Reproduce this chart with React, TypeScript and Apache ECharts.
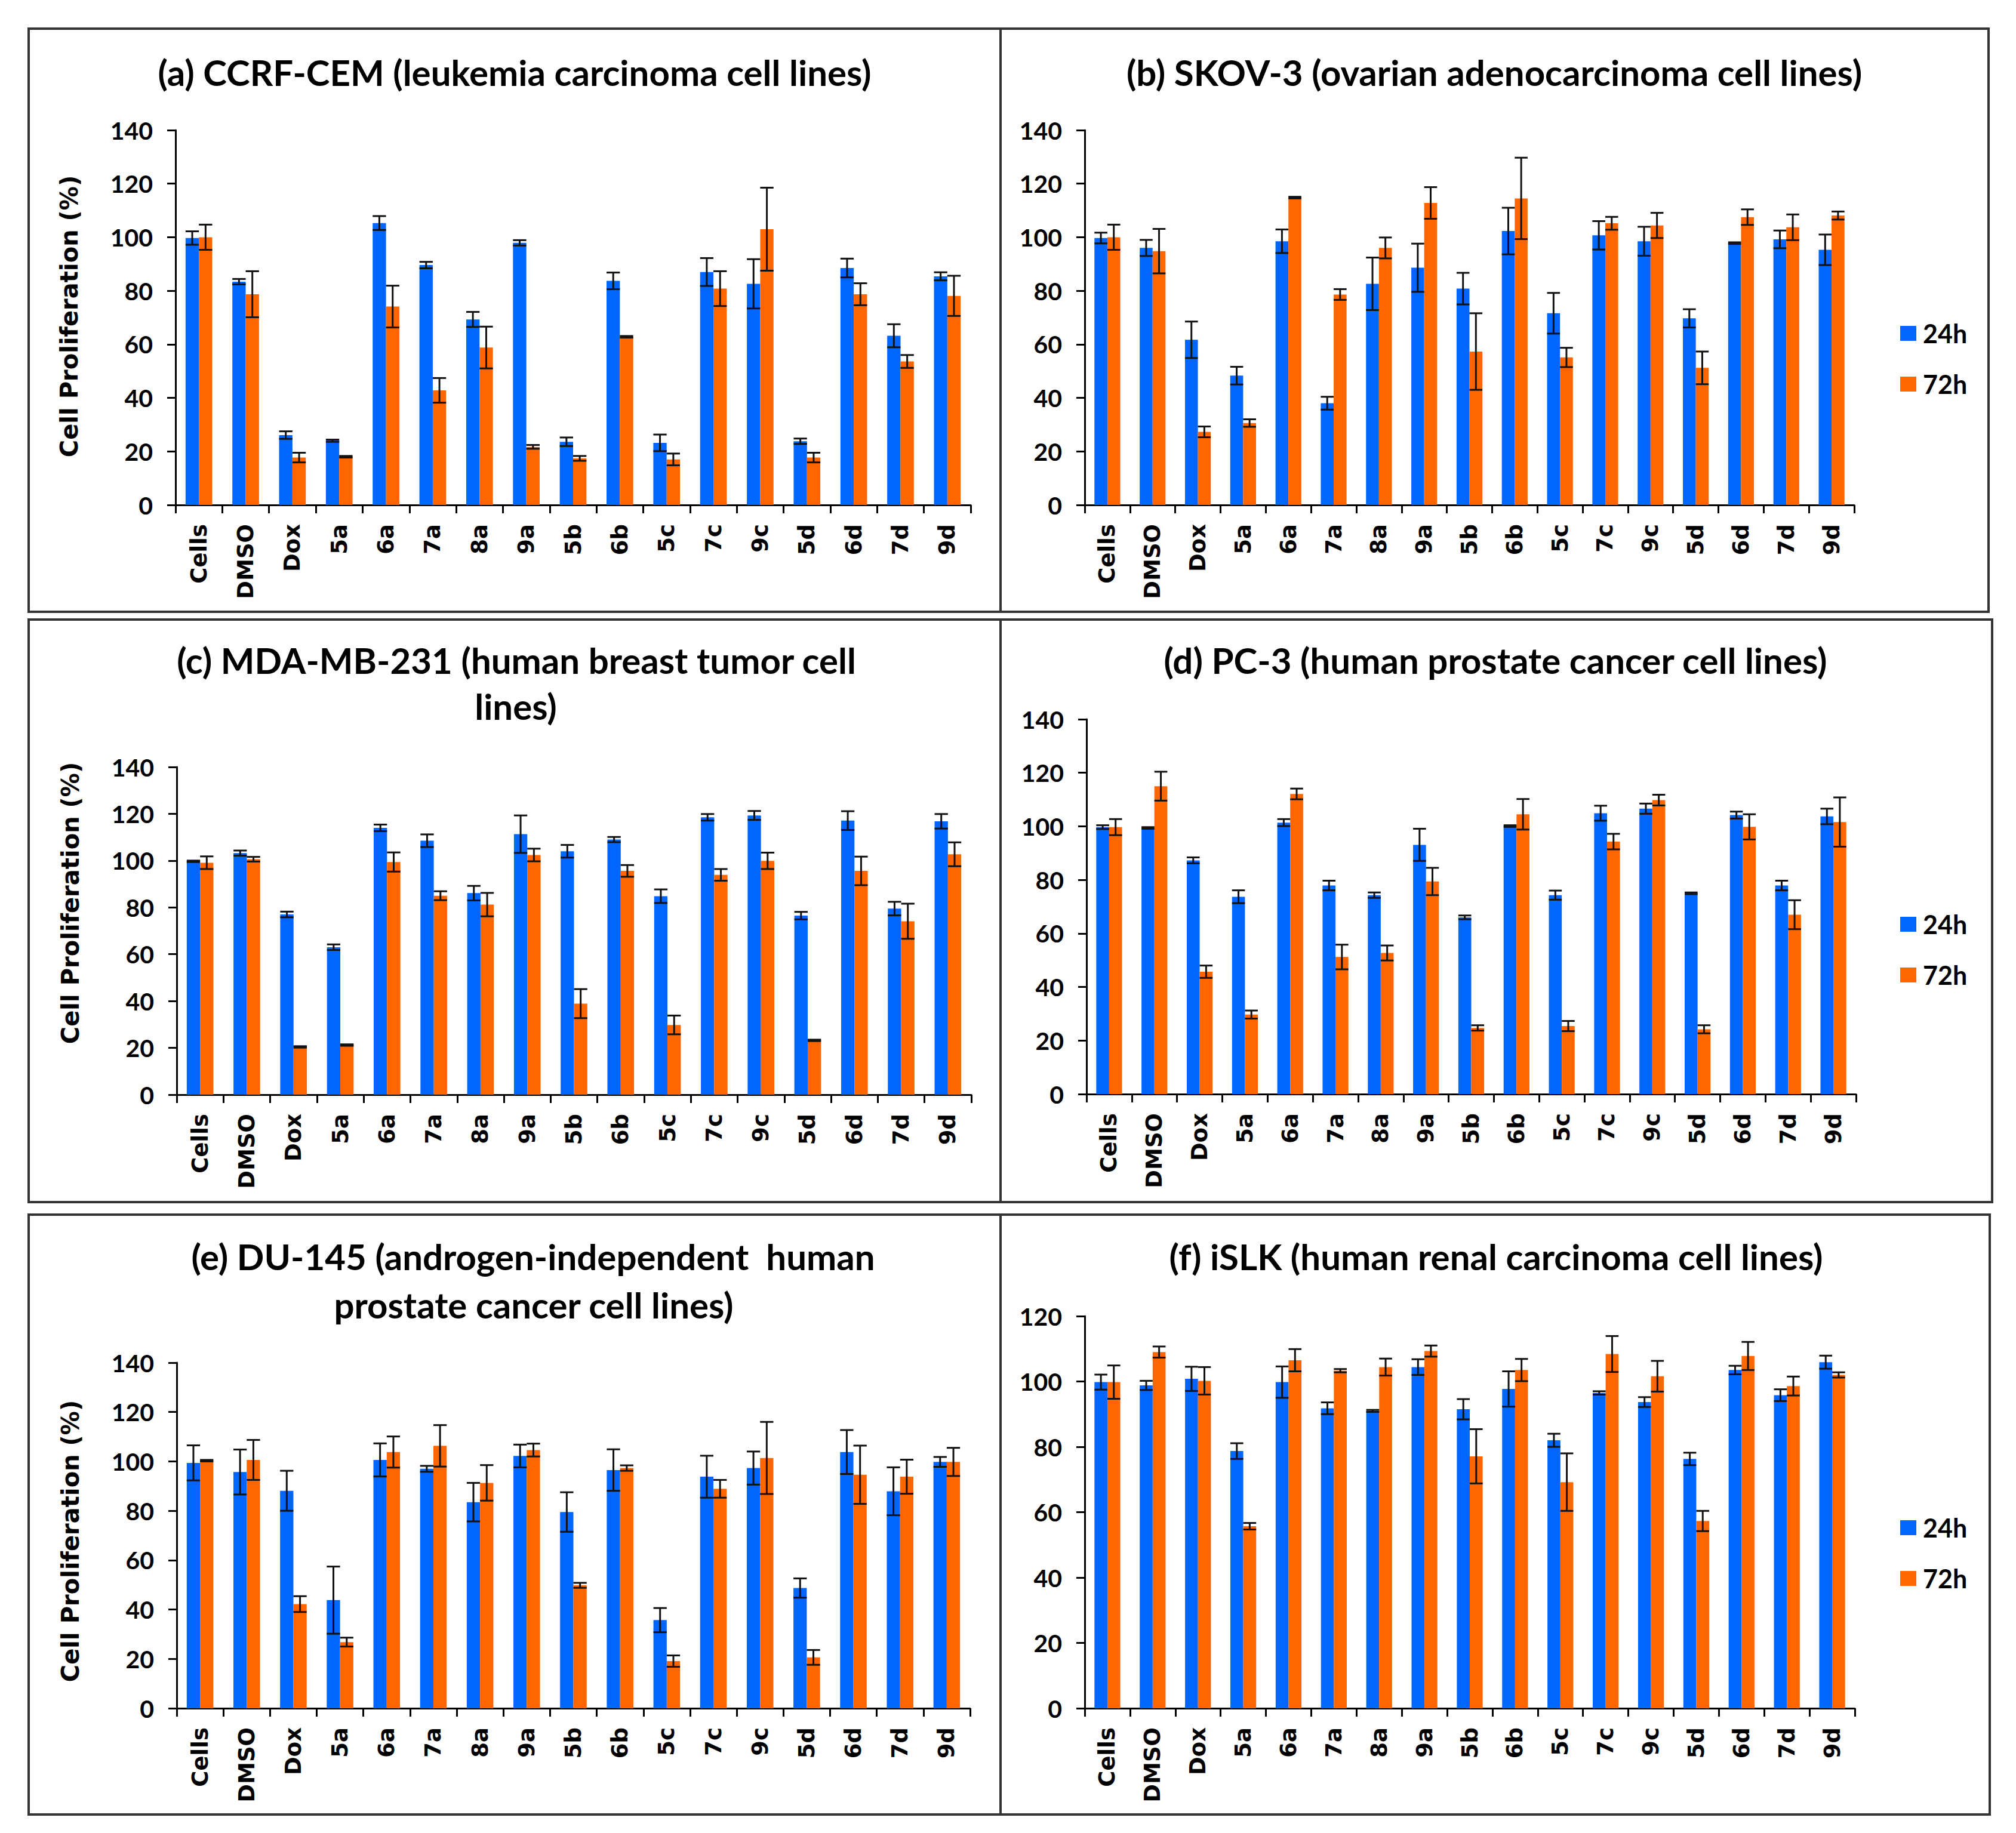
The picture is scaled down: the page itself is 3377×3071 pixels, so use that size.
import React, { useEffect, useRef } from "react";
import * as echarts from "echarts";

const categories = ["Cells", "DMSO", "Dox", "5a", "6a", "7a", "8a", "9a", "5b", "6b", "5c", "7c", "9c", "5d", "6d", "7d", "9d"];
const seriesNames = ["24h", "72h"];

// (a) CCRF-CEM
const a24 = [99.7, 83.4, 26.1, 24, 105.3, 89.6, 69.3, 97.9, 23.6, 83.7, 23.2, 87, 82.6, 23.8, 88.5, 63.2, 85.4];
const a24e = [2.5, 1, 1.4, 0.4, 2.6, 1.2, 2.8, 1, 1.6, 3.1, 3.1, 5.2, 9.2, 1, 3.5, 4.3, 1.5];
const a72 = [100, 78.7, 17.7, 18, 74.1, 42.8, 58.8, 21.7, 17.4, 62.8, 17, 80.8, 103, 17.7, 78.7, 53.6, 78.1];
const a72e = [4.7, 8.6, 1.8, 0.3, 7.8, 4.6, 7.8, 0.7, 0.9, 0.3, 2.2, 6.5, 15.5, 1.8, 4.1, 2.4, 7.5];
// (b) SKOV-3
const b24 = [99.7, 96, 61.7, 48.3, 98.5, 38, 82.6, 88.6, 80.8, 102.3, 71.6, 100.7, 98.5, 69.7, 97.8, 99.2, 95.3];
const b24e = [2, 3, 6.8, 3.3, 4.4, 2.4, 9.8, 9, 5.9, 8.7, 7.6, 5.3, 5.4, 3.4, 0.3, 3.3, 5.7];
const b72 = [100, 94.8, 27.3, 30.6, 114.8, 78.6, 96, 112.8, 57.3, 114.5, 55.1, 105.2, 104.4, 51.2, 107.5, 103.7, 108.1];
const b72e = [4.7, 8.3, 2, 1.4, 0.3, 2, 3.9, 5.9, 14.3, 15.2, 3.6, 2.4, 4.7, 6.1, 2.9, 4.8, 1.5];
// (c) MDA-MB-231
const c24 = [99.7, 103.2, 77, 63, 114, 108.5, 86.1, 111.3, 104, 109, 84.8, 118.5, 119.3, 76.5, 117.1, 79.5, 116.8];
const c24e = [0.3, 1.1, 1.2, 1.2, 1.4, 2.7, 3.1, 8, 2.7, 1.1, 2.9, 1.4, 1.9, 1.6, 4, 2.9, 3.1];
const c72 = [99.1, 100.6, 20.4, 21.2, 99.4, 85, 81.2, 102.4, 38.9, 95.6, 29.8, 93.9, 99.9, 23.2, 95.6, 74.1, 102.7];
const c72e = [2.7, 1, 0.3, 0.3, 4.1, 1.9, 5, 2.7, 6.2, 2.5, 4, 2.5, 3.5, 0.3, 6.1, 7.5, 5.1];
// (d) PC-3
const d24 = [99.7, 99.4, 87.3, 73.7, 101.4, 77.9, 74.3, 93.1, 66, 100.1, 74.3, 104.9, 106.6, 75, 104.2, 77.9, 103.7];
const d24e = [0.7, 0.3, 1.1, 2.4, 1.3, 1.8, 1, 6, 0.7, 0.3, 1.7, 2.8, 1.9, 0.3, 1.3, 1.8, 2.9];
const d72 = [99.7, 115, 45.7, 29.7, 112.1, 51.2, 52.7, 79.4, 24.7, 104.5, 25.4, 94.3, 109.8, 24.2, 99.8, 67, 101.6];
const d72e = [3, 5.4, 2.3, 1.5, 2, 4.6, 2.8, 5.1, 1, 5.7, 1.9, 2.9, 2, 1.5, 4.7, 5.4, 9.2];
// (e) DU-145
const e24 = [99.4, 95.7, 88.1, 43.8, 100.6, 97, 83.5, 102.2, 79.5, 96.5, 35.7, 93.8, 97.3, 48.7, 103.8, 87.9, 99.8];
const e24e = [7.1, 9.1, 8.1, 13.6, 6.7, 1.2, 7.8, 4.6, 8, 8.4, 4.9, 8.5, 6.7, 3.9, 8.9, 9.7, 2];
const e72 = [100.3, 100.6, 42.2, 26.8, 103.8, 106.3, 91.3, 104.6, 49.8, 97.3, 19.1, 88.9, 101.4, 20.6, 94.6, 93.8, 99.8];
const e72e = [0.3, 8.1, 3.2, 1.8, 6.3, 8.4, 7.2, 2.6, 1, 1.1, 2.3, 3.6, 14.6, 3, 11.8, 6.9, 5.7];
// (f) iSLK
const f24 = [99.8, 98.8, 100.8, 78.7, 99.8, 91.8, 91, 104.4, 91.5, 97.7, 82, 96.5, 93.7, 76.3, 103.5, 95.8, 105.9];
const f24e = [2.3, 1.4, 3.7, 2.4, 4.8, 1.8, 0.3, 2.4, 3.1, 5.4, 2, 0.5, 1.5, 1.9, 1.3, 1.8, 2];
const f72 = [99.8, 109, 100.2, 55.7, 106.5, 103.3, 104.4, 109.3, 77.1, 103.5, 69.2, 108.4, 101.6, 57.3, 107.8, 98.6, 102];
const f72e = [5.1, 1.7, 4.2, 1, 3.4, 0.5, 2.6, 1.7, 8.3, 3.4, 8.8, 5.5, 4.7, 3.1, 4.3, 2.9, 0.8];

const yMaxes = [140, 140, 140, 140, 140, 120];

const panels = [
  { m24: a24, e24: a24e, m72: a72, e72: a72e },
  { m24: b24, e24: b24e, m72: b72, e72: b72e },
  { m24: c24, e24: c24e, m72: c72, e72: c72e },
  { m24: d24, e24: d24e, m72: d72, e72: d72e },
  { m24: e24, e24: e24e, m72: e72, e72: e72e },
  { m24: f24, e24: f24e, m72: f72, e72: f72e },
];

const titles = [
  ["(a) CCRF-CEM (leukemia carcinoma cell lines)"],
  ["(b) SKOV-3 (ovarian adenocarcinoma cell lines)"],
  ["(c) MDA-MB-231 (human breast tumor cell", "lines)"],
  ["(d) PC-3 (human prostate cancer cell lines)"],
  ["(e) DU-145 (androgen-independent  human", "prostate cancer cell lines)"],
  ["(f) iSLK (human renal carcinoma cell lines)"],
];
const yName = "Cell Proliferation (%)";

const BLUE = "#0066FF";
const ORANGE = "#FF6600";
const TITLE_FONT = "Lato, 'Open Sans', sans-serif";
const LABEL_FONT = "'DejaVu Sans', Verdana, sans-serif";

// layout (pixels)
const grids = [
  { left: 294, top: 218, width: 1332, height: 628 },
  { left: 1817, top: 218, width: 1289, height: 628 },
  { left: 296, top: 1285, width: 1331, height: 549 },
  { left: 1820, top: 1205, width: 1289, height: 628 },
  { left: 296, top: 2283, width: 1329, height: 579 },
  { left: 1817, top: 2205, width: 1290, height: 657 },
];
const titlePos = [
  [[862, 121]],
  [[2503, 121]],
  [[865, 1106], [864, 1183]],
  [[2505, 1106]],
  [[893, 2105], [894, 2186]],
  [[2506, 2105]],
];
const yNamePos = [
  [116, 530],
  null,
  [118, 1513],
  null,
  [118, 2582],
  null,
];
const legendTops = [null, 532, null, 1522, null, 2533];
const boxes = [
  [48, 48, 1676, 1025],
  [1676, 48, 3331, 1025],
  [48, 1038, 1676, 2014],
  [1676, 1038, 3337, 2014],
  [48, 2035, 1676, 3040],
  [1676, 2035, 3333, 3040],
];

function errorRender(params: any, api: any) {
  const cat = api.value(0);
  const v = api.value(1);
  const e = api.value(2);
  const s = api.value(3);
  const catW = api.size([1, 0])[0];
  const barW = (catW * 0.57) / 2;
  const c = api.coord([cat, v]);
  const cx = c[0] + (s === 0 ? -barW / 2 : barW / 2);
  const yTop = api.coord([cat, v + e])[1];
  const yBot = api.coord([cat, v - e])[1];
  const cap = barW * 0.5;
  const style = { stroke: "#111", lineWidth: 3 };
  return {
    type: "group",
    children: [
      { type: "line", shape: { x1: cx, y1: yTop, x2: cx, y2: yBot }, style },
      { type: "line", shape: { x1: cx - cap, y1: yTop, x2: cx + cap, y2: yTop }, style },
      { type: "line", shape: { x1: cx - cap, y1: yBot, x2: cx + cap, y2: yBot }, style },
    ],
  };
}

function buildOption() {
  const grid: any[] = [];
  const xAxis: any[] = [];
  const yAxis: any[] = [];
  const series: any[] = [];
  const legend: any[] = [];
  const graphic: any[] = [];

  panels.forEach((p, i) => {
    grid.push({ ...grids[i], containLabel: false });
    xAxis.push({
      type: "category",
      gridIndex: i,
      data: categories,
      boundaryGap: true,
      axisLine: { show: true, lineStyle: { color: "#000", width: 3 } },
      axisTick: { show: true, length: 14, inside: false, lineStyle: { color: "#000", width: 3 } },
      axisLabel: {
        interval: 0,
        rotate: 90,
        margin: 32,
        color: "#000",
        fontFamily: LABEL_FONT,
        fontWeight: "bold",
        fontSize: 37,
      },
      splitLine: { show: false },
    });
    yAxis.push({
      type: "value",
      gridIndex: i,
      min: 0,
      max: yMaxes[i],
      interval: 20,
      axisLine: { show: true, lineStyle: { color: "#000", width: 3 } },
      axisTick: { show: true, length: 14, lineStyle: { color: "#000", width: 3 } },
      axisLabel: {
        margin: 38,
        color: "#000",
        fontFamily: TITLE_FONT,
        fontWeight: "bold",
        fontSize: 41,
      },
      splitLine: { show: false },
    });
    const means = [p.m24, p.m72];
    const errs = [p.e24, p.e72];
    [0, 1].forEach((s) => {
      series.push({
        type: "bar",
        name: seriesNames[s],
        xAxisIndex: i,
        yAxisIndex: i,
        data: means[s],
        barGap: "0%",
        barCategoryGap: "43%",
        itemStyle: { color: s === 0 ? BLUE : ORANGE },
        z: 2,
      });
    });
    const errData: number[][] = [];
    [0, 1].forEach((s) => {
      means[s].forEach((v, k) => errData.push([k, v, errs[s][k], s]));
    });
    series.push({
      type: "custom",
      name: "err" + i,
      xAxisIndex: i,
      yAxisIndex: i,
      data: errData,
      encode: { x: 0, y: 1 },
      renderItem: errorRender,
      z: 5,
      silent: true,
    });
    if (legendTops[i] !== null) {
      legend.push({
        data: seriesNames,
        orient: "vertical",
        left: 3178,
        top: legendTops[i],
        icon: "rect",
        itemWidth: 27,
        itemHeight: 25,
        itemGap: 42,
        selectedMode: false,
        textStyle: {
          color: "#000",
          fontFamily: TITLE_FONT,
          fontWeight: "bold",
          fontSize: 43,
          lineHeight: 43,
          padding: [0, 0, 0, 6],
        },
      });
    }
    titles[i].forEach((t, k) => {
      const [x, y] = titlePos[i][k];
      graphic.push({
        type: "text",
        x,
        y,
        z: 10,
        style: {
          text: t,
          fill: "#000",
          fontFamily: TITLE_FONT,
          fontWeight: "bold",
          fontSize: 60,
          align: "center",
          verticalAlign: "middle",
        },
      });
    });
    const yp = yNamePos[i];
    if (yp) {
      graphic.push({
        type: "text",
        x: yp[0],
        y: yp[1],
        rotation: Math.PI / 2,
        z: 10,
        style: {
          text: yName,
          fill: "#000",
          fontFamily: LABEL_FONT,
          fontWeight: "bold",
          fontSize: 40,
          align: "center",
          verticalAlign: "middle",
        },
      });
    }
  });

  boxes.forEach(([x1, y1, x2, y2]) => {
    graphic.push({
      type: "rect",
      shape: { x: x1, y: y1, width: x2 - x1, height: y2 - y1 },
      style: { fill: "none", stroke: "#333", lineWidth: 4 },
      z: 0,
      silent: true,
    });
  });

  return {
    animation: false,
    backgroundColor: "#fff",
    grid,
    xAxis,
    yAxis,
    series,
    legend,
    graphic,
  };
}

export default function App() {
  const ref = useRef<HTMLDivElement>(null);
  useEffect(() => {
    if (!ref.current) return;
    const chart = echarts.init(ref.current, null, { renderer: "svg" });
    chart.setOption(buildOption());
    return () => chart.dispose();
  }, []);
  return (
    <div
      ref={ref}
      style={{ position: "absolute", left: 0, top: 0, width: 3377, height: 3071, background: "#fff" }}
    />
  );
}
